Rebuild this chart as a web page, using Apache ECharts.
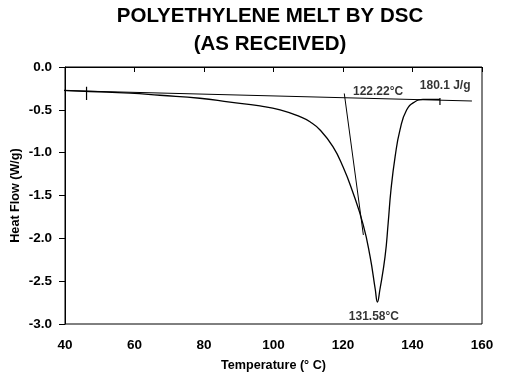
<!DOCTYPE html>
<html>
<head>
<meta charset="utf-8">
<script src="https://cdn.jsdelivr.net/npm/echarts@6/dist/echarts.min.js"></script>
<style>
html,body{margin:0;padding:0;background:#fff;}
#chart{width:505px;height:374px;}
</style>
</head>
<body>
<div id="chart"></div>
<script>
// DSC heat-flow curve: [temperature (°C), heat flow (W/g)]
var curveTemp = [38.6, 47.2, 58.7, 67.3, 78.8, 87.5, 96.1, 101.9, 107.6, 110.5, 113.4, 117.1, 120.0, 122.6, 125.8, 127.8, 129.3, 129.9, 130.6, 132.1, 133.0, 133.8, 135.0, 136.4, 138.3, 140.7, 143.0, 147.9];
var curveFlow = [-0.272, -0.286, -0.305, -0.330, -0.365, -0.410, -0.455, -0.500, -0.580, -0.640, -0.735, -0.930, -1.164, -1.436, -1.840, -2.214, -2.600, -2.743, -2.603, -2.214, -1.821, -1.436, -1.047, -0.735, -0.502, -0.405, -0.379, -0.378];
// integration baseline
var baseTemp = [38.6, 157.1];
var baseFlow = [-0.274, -0.397];
// onset tangent line
var tangentTemp = [120.37, 125.86];
var tangentFlow = [-0.309, -1.961];
// integration limit marks
var markTemp = [46.2, 147.9];
var markTop = [-0.23, -0.362];
var markBottom = [-0.385, -0.444];
// annotations
var noteText = ['122.22\u00B0C', '180.1 J/g', '131.58\u00B0C'];
var noteTemp = [130.1, 149.4, 128.9];
var noteFlow = [-0.29, -0.215, -2.92];
// axis ticks
var xMin = 40, xMax = 160, xStep = 20;
var yMin = -3.0, yMax = 0.0, yStep = 0.5;

function zip(a, b) { return a.map(function (v, i) { return [v, b[i]]; }); }

var FONT = 'Liberation Sans, Arial, sans-serif';
var chart = echarts.init(document.getElementById('chart'), null, {renderer: 'canvas'});

var series = [
  {
    type: 'line', data: zip(curveTemp, curveFlow), showSymbol: false, smooth: 0.5,
    clip: false,
    lineStyle: {color: '#000', width: 1.3}, z: 3
  },
  {
    type: 'line', data: zip(baseTemp, baseFlow), showSymbol: false, clip: false,
    lineStyle: {color: '#000', width: 1}, z: 2
  },
  {
    type: 'line', data: zip(tangentTemp, tangentFlow), showSymbol: false,
    lineStyle: {color: '#000', width: 1}, z: 2
  }
];
markTemp.forEach(function (t, i) {
  series.push({
    type: 'line', data: [[t, markTop[i]], [t, markBottom[i]]], showSymbol: false,
    lineStyle: {color: '#000', width: 1.2}, z: 2
  });
});
series.push({
  type: 'scatter', symbolSize: 0, z: 5,
  data: noteText.map(function (s, i) { return {value: [noteTemp[i], noteFlow[i]], name: s}; }),
  label: {
    show: true, position: 'inside', formatter: function (p) { return p.name; },
    color: '#000', fontFamily: FONT, fontSize: 12, fontWeight: 'bold'
  }
});

chart.setOption({
  backgroundColor: '#fff',
  animation: false,
  title: {
    text: 'POLYETHYLENE MELT BY DSC\n(AS RECEIVED)',
    left: 265, top: -3, textAlign: 'center',
    textStyle: {fontFamily: FONT, fontSize: 20.5, fontWeight: 'bold', color: '#000', lineHeight: 28}
  },
  grid: {left: 65, right: 23, top: 67, bottom: 50, show: true, borderColor: '#000', borderWidth: 1,
    backgroundColor: 'transparent', containLabel: false, outerBoundsMode: 'none'},
  xAxis: {
    type: 'value', min: xMin, max: xMax, interval: xStep,
    name: 'Temperature (\u00B0 C)', nameLocation: 'middle', nameGap: 35, nameMoveOverlap: false,
    nameTextStyle: {fontFamily: FONT, fontSize: 12.6, fontWeight: 'bold', color: '#000'},
    axisLine: {lineStyle: {color: '#000', width: 1}},
    axisTick: {show: true, length: 5, lineStyle: {color: '#000'}},
    axisLabel: {fontFamily: FONT, fontSize: 13.5, fontWeight: 'bold', color: '#000', margin: 14},
    splitLine: {show: false}
  },
  yAxis: {
    type: 'value', min: yMin, max: yMax, interval: yStep,
    name: 'Heat Flow (W/g)', nameLocation: 'middle', nameGap: 43, nameMoveOverlap: false,
    nameTextStyle: {fontFamily: FONT, fontSize: 12.6, fontWeight: 'bold', color: '#000'},
    axisLine: {show: true, lineStyle: {color: '#000', width: 1}},
    axisTick: {show: true, length: 6, lineStyle: {color: '#000'}},
    axisLabel: {fontFamily: FONT, fontSize: 13.5, fontWeight: 'bold', color: '#000', margin: 13,
      formatter: function (v) { return v.toFixed(1); }},
    splitLine: {show: false}
  },
  series: series
});
</script>
</body>
</html>
